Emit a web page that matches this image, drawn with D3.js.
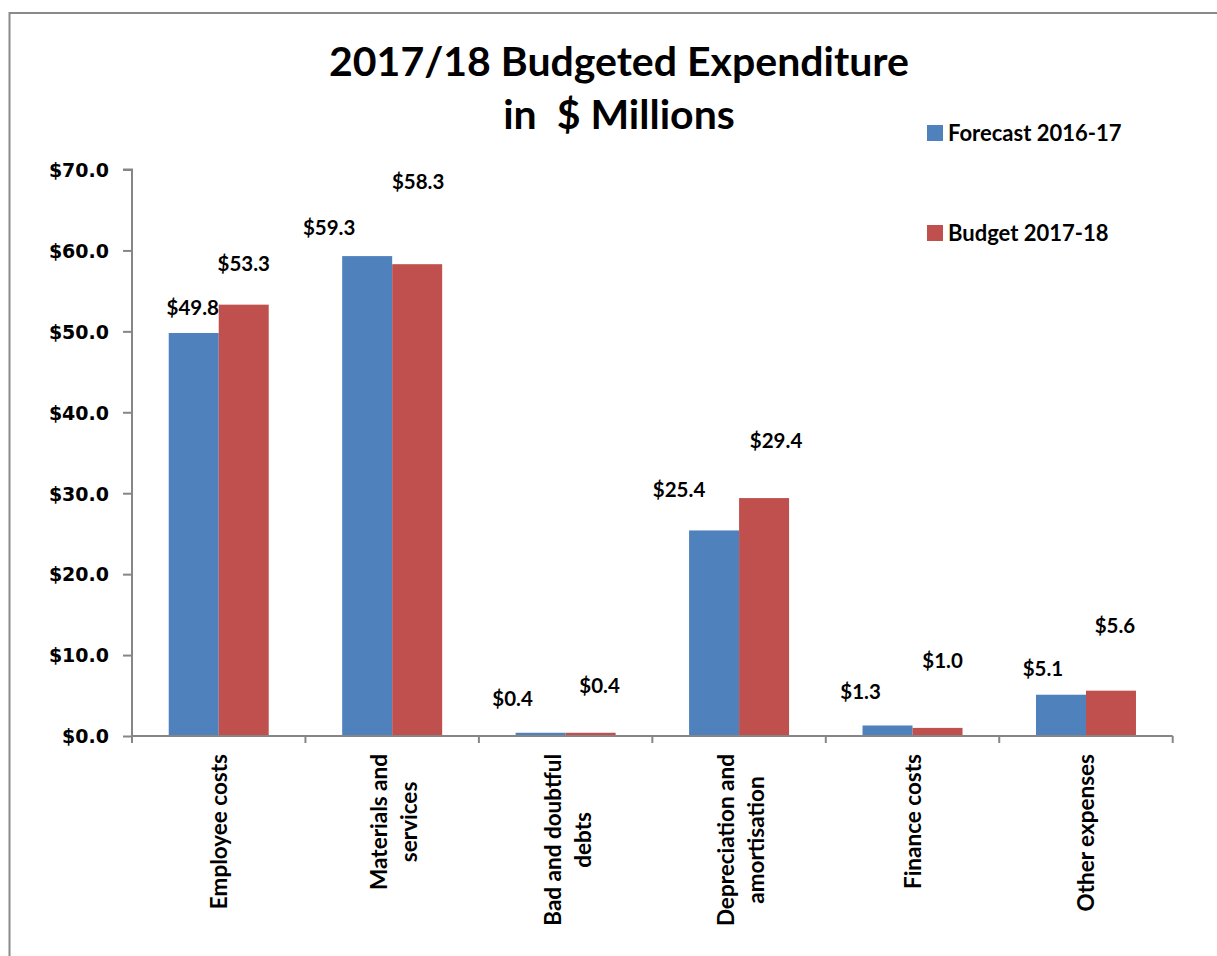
<!DOCTYPE html>
<html><head><meta charset="utf-8">
<script src="https://cdn.jsdelivr.net/npm/d3@7"></script>
<style>body{margin:0;background:#fff}</style></head>
<body><svg id="c" width="1217" height="956"></svg>
<script>
// ---- data ----
const categories = ["Employee costs", "Materials and services", "Bad and doubtful debts", "Depreciation and amortisation", "Finance costs", "Other expenses"];
const categoryLines = [["Employee costs"], ["Materials and", "services"], ["Bad and doubtful", "debts"], ["Depreciation and", "amortisation"], ["Finance costs"], ["Other expenses"]];
const seriesNames = ["Forecast 2016-17", "Budget 2017-18"];
const forecast = [49.8, 59.3, 0.4, 25.4, 1.3, 5.1];
const budget = [53.3, 58.3, 0.4, 29.4, 1.0, 5.6];
const yTicks = [0, 10, 20, 30, 40, 50, 60, 70];
const titleLines = ["2017/18 Budgeted Expenditure", "in  $ Millions"];

// ---- layout / style ----
const colors = ["#4F81BD", "#C0504D"];
// manual data-label shifts (px) relative to bar centre / bar top, as in the original
const labelShift = [
  [[-1, -25], [-38, -28], [-28, -34], [-35, -40], [-27, -33], [-18, -26]],
  [[0, -41], [1, -82], [9, -47], [12, -57], [5, -67], [4, -65]]
];
const W = 1217, H = 956;
const plot = {left: 132, right: 1172.7, top: 169.5, bottom: 736};
const svg = d3.select("#c");
const LATO = "Lato, 'Open Sans', sans-serif";

svg.append("rect").attr("width", W).attr("height", H).attr("fill", "#fff");
// outer frame
svg.append("rect").attr("x", 9.5).attr("y", 13).attr("width", W + 20).attr("height", H + 20)
  .attr("fill", "none").attr("stroke", "#8a8a8a").attr("stroke-width", 2);

const x0 = d3.scaleBand().domain(categories).range([plot.left, plot.right]).paddingInner(0.4235).paddingOuter(0.21175);
const x1 = d3.scaleBand().domain(seriesNames).range([0, x0.bandwidth()]);
const y = d3.scaleLinear().domain([0, 70]).range([plot.bottom, plot.top]);

const data = [forecast, budget];

// bars
seriesNames.forEach((s, si) => {
  svg.append("g").selectAll("rect").data(data[si]).join("rect")
    .attr("x", (d, i) => x0(categories[i]) + x1(s))
    .attr("y", d => y(d))
    .attr("width", x1.bandwidth())
    .attr("height", d => y(0) - y(d))
    .attr("fill", colors[si]);
});

// y axis
const yAxis = d3.axisLeft(y).tickValues(yTicks).tickSize(9).tickPadding(14).tickFormat(d => "$" + d.toFixed(1));
const gy = svg.append("g").attr("transform", `translate(${plot.left},0)`).call(yAxis);
gy.select(".domain").attr("d", `M-9,${y(70)}H0V${plot.bottom + 1}`).attr("stroke", "#868686").attr("stroke-width", 2);
gy.selectAll(".tick line").attr("stroke", "#868686").attr("stroke-width", 2);
gy.selectAll(".tick text").attr("fill", "#000").attr("font-family", "'DejaVu Sans', Verdana, sans-serif")
  .attr("font-weight", "bold").attr("font-size", 19).attr("dy", "0.36em");

// x axis line and ticks at category boundaries
const boundaries = [plot.left].concat(categories.map(c => x0(c) - x0.step() * x0.paddingInner() / 2 + x0.step()));
svg.append("line").attr("x1", plot.left).attr("x2", plot.right).attr("y1", plot.bottom).attr("y2", plot.bottom)
  .attr("stroke", "#868686").attr("stroke-width", 2);
svg.append("g").selectAll("line").data(boundaries).join("line")
  .attr("x1", d => d).attr("x2", d => d).attr("y1", plot.bottom).attr("y2", plot.bottom + 7)
  .attr("stroke", "#868686").attr("stroke-width", 2);

// category labels (rotated)
categoryLines.forEach((lines, i) => {
  const cx = x0(categories[i]) + x0.bandwidth() / 2;
  const g = svg.append("g");
  const n = lines.length;
  const texts = lines.map((t, li) => g.append("text").text(t)
    .attr("font-family", LATO).attr("font-weight", "bold").attr("font-size", 22.5).attr("fill", "#000")
    .attr("text-anchor", "middle"));
  const L = d3.max(texts, t => t.node().getComputedTextLength());
  const cy = 754 + L / 2;
  texts.forEach((t, li) => {
    const bx = cx + 8 + (li - (n - 1) / 2) * 30 + (n > 1 ? 2 : 0);
    t.attr("transform", `translate(${bx},${cy}) rotate(-90)`);
  });
});

// data labels
seriesNames.forEach((s, si) => {
  svg.append("g").selectAll("text").data(data[si]).join("text")
    .attr("x", (d, i) => x0(categories[i]) + x1(s) + x1.bandwidth() / 2 + labelShift[si][i][0])
    .attr("y", (d, i) => y(d) + labelShift[si][i][1] + 7)
    .attr("text-anchor", "middle")
    .attr("font-family", LATO).attr("font-weight", "bold").attr("font-size", 20.5).attr("fill", "#000")
    .text(d => "$" + d.toFixed(1));
});

// title
svg.append("g").selectAll("text").data(titleLines).join("text")
  .attr("x", 619).attr("y", (d, i) => 76 + i * 53)
  .attr("text-anchor", "middle").attr("font-family", LATO).attr("font-weight", "bold")
  .attr("font-size", 41).attr("fill", "#000").attr("xml:space", "preserve").style("white-space", "pre")
  .text(d => d);

// legend
const lg = svg.append("g").selectAll("g").data(seriesNames).join("g")
  .attr("transform", (d, i) => `translate(927,${125 + i * 100})`);
lg.append("rect").attr("width", 16).attr("height", 16).attr("fill", (d, i) => colors[i]);
lg.append("text").attr("x", 21).attr("y", 16).attr("font-family", LATO).attr("font-weight", "bold")
  .attr("font-size", 22).attr("fill", "#000").text(d => d);
</script>
</body></html>
